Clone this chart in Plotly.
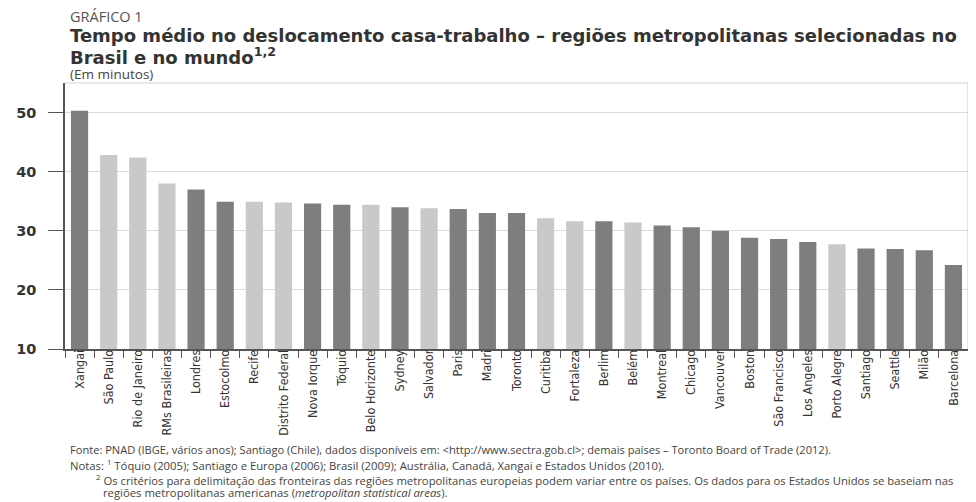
import plotly.graph_objects as go

cidades = ["Xangai", "São Paulo", "Rio de Janeiro", "RMs Brasileiras", "Londres", "Estocolmo",
           "Recife", "Distrito Federal", "Nova Iorque", "Tóquio", "Belo Horizonte", "Sydney",
           "Salvador", "Paris", "Madri", "Toronto", "Curitiba", "Fortaleza", "Berlim", "Belém",
           "Montreal", "Chicago", "Vancouver", "Boston", "São Francisco", "Los Angeles",
           "Porto Alegre", "Santiago", "Seattle", "Milão", "Barcelona"]
minutos = [50.3, 42.8, 42.4, 38.0, 37.0, 34.9, 34.9, 34.8, 34.6, 34.4, 34.4, 34.0, 33.8, 33.7,
           33.0, 33.0, 32.1, 31.6, 31.6, 31.4, 30.9, 30.6, 30.0, 28.8, 28.6, 28.1, 27.7, 27.0,
           26.9, 26.7, 24.2]
brasil = [False, True, True, True, False, False, True, True, False, False, True, False, True,
          False, False, False, True, True, False, True, False, False, False, False, False,
          False, True, False, False, False, False]
y_ticks = [10, 20, 30, 40, 50]

COR_MUNDO = "#7d7e7d"
COR_BRASIL = "#c9c9c9"
cores = [COR_BRASIL if b else COR_MUNDO for b in brasil]

OFF = 8  # default page margin of the browser body
W, H = 976 - OFF, 502 - OFF
ML, MR, MT = 55 - OFF, 8, 83 - OFF
AXIS_Y = 348.7 - OFF
MB = H - AXIS_Y
PW = W - ML - MR
PH = H - MT - MB


def px(x):
    return (x - OFF - ML) / PW


def py(y):
    return (H - MB - (y - OFF)) / PH


fig = go.Figure(go.Bar(x=cidades, y=minutos, marker=dict(color=cores, line=dict(width=0)),
                       width=0.59, hoverinfo="x+y"))

fig.update_layout(
    width=W, height=H,
    margin=dict(l=ML, r=MR, t=MT, b=MB),
    paper_bgcolor="white", plot_bgcolor="white",
    showlegend=False,
    font=dict(family="Open Sans", color="#444"),
)
fig.update_yaxes(range=[10, 55], tickvals=y_ticks, showgrid=True, gridcolor="#dcdcdc",
                 gridwidth=1, showline=True, linecolor="#555", linewidth=1.5,
                 ticks="outside", ticklen=15, tickcolor="#555", tickwidth=1.2,
                 ticklabelstandoff=9,
                 tickfont=dict(family="DejaVu Sans", size=14.5, color="#333", weight="bold"),
                 zeroline=False)
fig.update_xaxes(range=[-0.5, 30.5], showline=True, linecolor="#555", linewidth=1.5,
                 ticks="outside", tickson="boundaries", ticklen=7, tickcolor="#555",
                 tickwidth=1.2, tickangle=-90, ticklabelstandoff=-6,
                 tickfont=dict(family="Liberation Sans Narrow, DejaVu Sans Condensed", size=12.5,
                               color="#333"))

fig.add_shape(type="line", xref="paper", yref="paper", x0=0, x1=1, y0=1, y1=1,
              line=dict(color="#d4d4d4", width=1.2))
fig.add_shape(type="line", xref="paper", yref="paper", x0=1, x1=1, y0=0, y1=1,
              line=dict(color="#d4d4d4", width=1.2))


def txt(x, y, text, size, family="Open Sans", color="#444", bold=False):
    fig.add_annotation(xref="paper", yref="paper", x=px(x), y=py(y), xanchor="left",
                       yanchor="middle", showarrow=False, text=text, align="left",
                       font=dict(family=family, size=size, color=color,
                                 weight="bold" if bold else "normal"))


txt(58, 17, "GRÁFICO 1", 14.5, color="#555")
txt(58, 36, "Tempo médio no deslocamento casa-trabalho – regiões metropolitanas selecionadas no",
    18, family="DejaVu Sans", color="#333", bold=True)
txt(58, 56, "Brasil e no mundo<sup>1,2</sup>", 18, family="DejaVu Sans", color="#333", bold=True)
txt(58, 74, "(Em minutos)", 13.5, color="#444")

txt(58, 449, "Fonte: PNAD (IBGE, vários anos); Santiago (Chile), dados disponíveis em: "
    "&lt;http://www.sectra.gob.cl&gt;; demais países – Toronto Board of Trade (2012).", 11.1)
txt(58, 465, "Notas: <sup>1</sup> Tóquio (2005); Santiago e Europa (2006); Brasil (2009); "
    "Austrália, Canadá, Xangai e Estados Unidos (2010).", 11.3)
txt(84, 480, "<sup>2</sup> Os critérios para delimitação das fronteiras das regiões metropolitanas "
    "europeias podem variar entre os países. Os dados para os Estados Unidos se baseiam nas", 11.3)
txt(91, 492, "regiões metropolitanas americanas (<i>metropolitan statistical areas</i>).", 11.3)

fig.write_html("out.html")
